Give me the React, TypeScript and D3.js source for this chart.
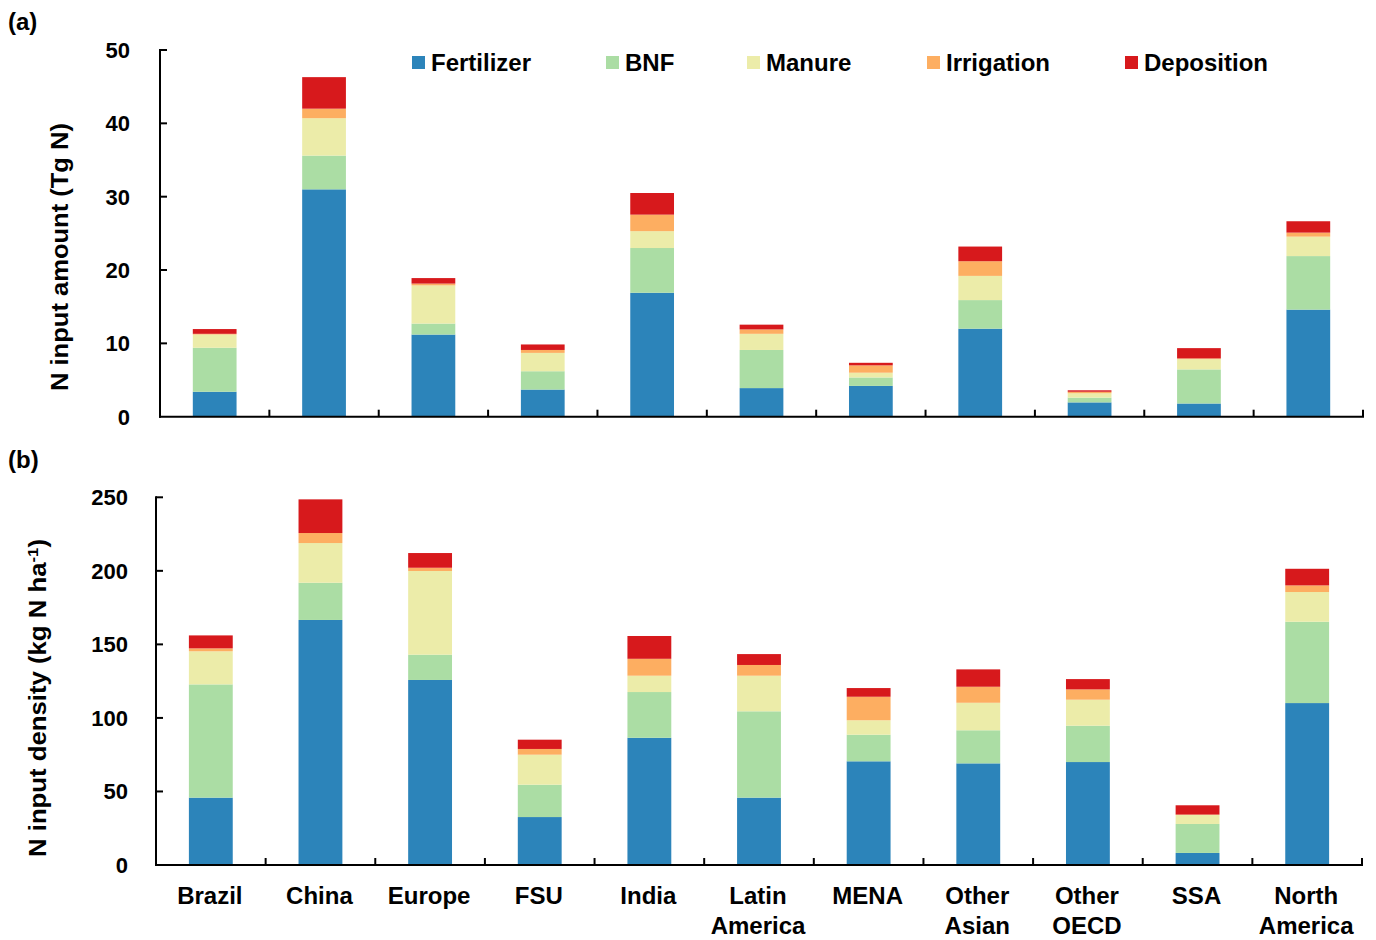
import React from "react";
import * as d3 from "d3";

// Regions on the x axis
const categories = [
  "Brazil",
  "China",
  "Europe",
  "FSU",
  "India",
  "Latin America",
  "MENA",
  "Other Asian",
  "Other OECD",
  "SSA",
  "North America",
];

const seriesNames = ["Fertilizer", "BNF", "Manure", "Irrigation", "Deposition"];
const seriesColors = ["#2c84ba", "#abdda4", "#ececa9", "#fdae61", "#d7191c"];

// (a) N input amount, Tg N
const fertilizerAmount = [3.4, 31.0, 11.2, 3.7, 16.9, 3.9, 4.2, 12.0, 1.95, 1.8, 14.6];
const bnfAmount = [6.0, 4.6, 1.5, 2.5, 6.1, 5.2, 1.15, 3.9, 0.65, 4.65, 7.3];
const manureAmount = [1.8, 5.1, 5.2, 2.5, 2.3, 2.2, 0.65, 3.3, 0.6, 1.4, 2.65];
const irrigationAmount = [0.1, 1.3, 0.25, 0.4, 2.25, 0.6, 1.0, 2.0, 0.2, 0.1, 0.55];
const depositionAmount = [0.65, 4.3, 0.75, 0.75, 2.95, 0.65, 0.35, 2.0, 0.2, 1.4, 1.55];

// (b) N input density, kg N ha-1
const fertilizerDensity = [45.8, 166.6, 125.8, 32.6, 86.5, 45.8, 70.5, 69.1, 70.0, 8.2, 110.1];
const bnfDensity = [77.0, 25.3, 17.2, 22.0, 31.1, 58.7, 18.1, 22.5, 24.7, 19.7, 55.3];
const manureDensity = [22.5, 27.0, 56.9, 20.4, 11.1, 24.2, 9.8, 18.7, 17.7, 6.1, 20.2];
const irrigationDensity = [2.0, 6.8, 2.2, 3.9, 11.5, 7.3, 16.0, 10.9, 7.0, 0.3, 4.5];
const depositionDensity = [8.8, 22.9, 10.0, 6.3, 15.5, 7.4, 5.9, 11.8, 7.0, 6.3, 11.3];

const amountTicks = [0, 10, 20, 30, 40, 50];
const densityTicks = [0, 50, 100, 150, 200, 250];

const FONT = "'Liberation Sans', Arial, Helvetica, sans-serif";

type PanelProps = {
  series: number[][];
  yMax: number;
  ticks: number[];
  xLeft: number;
  xRight: number;
  yTop: number;
  yBottom: number;
  tickLabelX: number;
  axisLabel: React.ReactNode;
  axisLabelX: number;
  axisLabelY: number;
  axisLabelLength: number;
  panelTag: string;
  panelTagY: number;
};

function Panel(p: PanelProps) {
  const rows = categories.map((c, i) => {
    const r: Record<string, any> = { category: c };
    seriesNames.forEach((s, k) => (r[s] = p.series[k][i]));
    return r;
  });
  const stacked = d3.stack<any>().keys(seriesNames)(rows);

  const x = d3
    .scaleBand<string>()
    .domain(categories)
    .range([p.xLeft, p.xRight])
    .paddingInner(0.6)
    .paddingOuter(0.3);
  const step = x.step();
  const y = d3.scaleLinear().domain([0, p.yMax]).range([p.yBottom, p.yTop]);
  const tickLen = 7;

  return (
    <g>
      <text x={8} y={p.panelTagY} fontFamily={FONT} fontWeight="bold" fontSize={24} fill="#000">
        {p.panelTag}
      </text>
      {stacked.map((layer, k) => (
        <g key={layer.key} fill={seriesColors[k]}>
          {layer.map((d, i) => (
            <rect
              key={i}
              x={x(categories[i])!}
              width={x.bandwidth()}
              y={y(d[1])}
              height={Math.max(0, y(d[0]) - y(d[1]))}
            />
          ))}
        </g>
      ))}
      {/* y axis */}
      <line x1={p.xLeft} x2={p.xLeft} y1={p.yTop - 1} y2={p.yBottom + 1} stroke="#000" strokeWidth={2} />
      {p.ticks.map((t) => (
        <g key={t}>
          {t > 0 && (
            <line x1={p.xLeft} x2={p.xLeft + tickLen} y1={y(t)} y2={y(t)} stroke="#000" strokeWidth={2} />
          )}
          <text
            x={p.tickLabelX}
            y={y(t)}
            dy="0.36em"
            textAnchor="end"
            fontFamily={FONT}
            fontWeight="bold"
            fontSize={22}
            fill="#000"
          >
            {t}
          </text>
        </g>
      ))}
      {/* x axis */}
      <line x1={p.xLeft - 1} x2={p.xRight + 1} y1={p.yBottom} y2={p.yBottom} stroke="#000" strokeWidth={2} />
      {categories.map((c, i) => {
        const bx = p.xLeft + step * (i + 1);
        return (
          <line key={c} x1={bx} x2={bx} y1={p.yBottom} y2={p.yBottom - tickLen} stroke="#000" strokeWidth={2} />
        );
      })}
      <text
        transform={`translate(${p.axisLabelX},${p.axisLabelY}) rotate(-90)`}
        textAnchor="middle"
        dy="0.35em"
        fontFamily={FONT}
        fontWeight="bold"
        fontSize={23}
        textLength={p.axisLabelLength}
        lengthAdjust="spacingAndGlyphs"
        fill="#000"
      >
        {p.axisLabel}
      </text>
    </g>
  );
}

export default function App() {
  const xb = d3
    .scaleBand<string>()
    .domain(categories)
    .range([156, 1362])
    .paddingInner(0.6)
    .paddingOuter(0.3);

  const legendX = [412, 606, 747, 927, 1125];

  return (
    <svg
      width={1376}
      height={940}
      viewBox="0 0 1376 940"
      style={{ position: "absolute", left: 0, top: 0, background: "#fff" }}
    >
      <rect width={1376} height={940} fill="#fff" />
      <Panel
        series={[fertilizerAmount, bnfAmount, manureAmount, irrigationAmount, depositionAmount]}
        yMax={50}
        ticks={amountTicks}
        xLeft={160}
        xRight={1363}
        yTop={50}
        yBottom={416.7}
        tickLabelX={130}
        axisLabel="N input amount (Tg N)"
        axisLabelX={60}
        axisLabelY={257}
        axisLabelLength={268}
        panelTag="(a)"
        panelTagY={30}
      />
      <Panel
        series={[fertilizerDensity, bnfDensity, manureDensity, irrigationDensity, depositionDensity]}
        yMax={250}
        ticks={densityTicks}
        xLeft={156}
        xRight={1362}
        yTop={497.3}
        yBottom={865}
        tickLabelX={128}
        axisLabel={
          <>
            N input density (kg N ha
            <tspan dy={-8} fontSize={15}>
              -1
            </tspan>
            <tspan dy={8}>)</tspan>
          </>
        }
        axisLabelX={38}
        axisLabelY={698}
        axisLabelLength={318}
        panelTag="(b)"
        panelTagY={468}
      />
      {/* category labels */}
      {categories.map((c) => {
        const cx = xb(c)! + xb.bandwidth() / 2 - 1;
        const lines = c.split(" ");
        return (
          <text
            key={c}
            x={cx}
            y={904}
            textAnchor="middle"
            fontFamily={FONT}
            fontWeight="bold"
            fontSize={24}
            fill="#000"
          >
            {lines.map((l, j) => (
              <tspan key={j} x={cx} dy={j === 0 ? 0 : 30}>
                {l}
              </tspan>
            ))}
          </text>
        );
      })}
      {/* legend */}
      {seriesNames.map((s, k) => (
        <g key={s}>
          <rect x={legendX[k]} y={56} width={13} height={13} fill={seriesColors[k]} />
          <text
            x={legendX[k] + 19}
            y={70.5}
            fontFamily={FONT}
            fontWeight="bold"
            fontSize={24}
            fill="#000"
          >
            {s}
          </text>
        </g>
      ))}
    </svg>
  );
}
